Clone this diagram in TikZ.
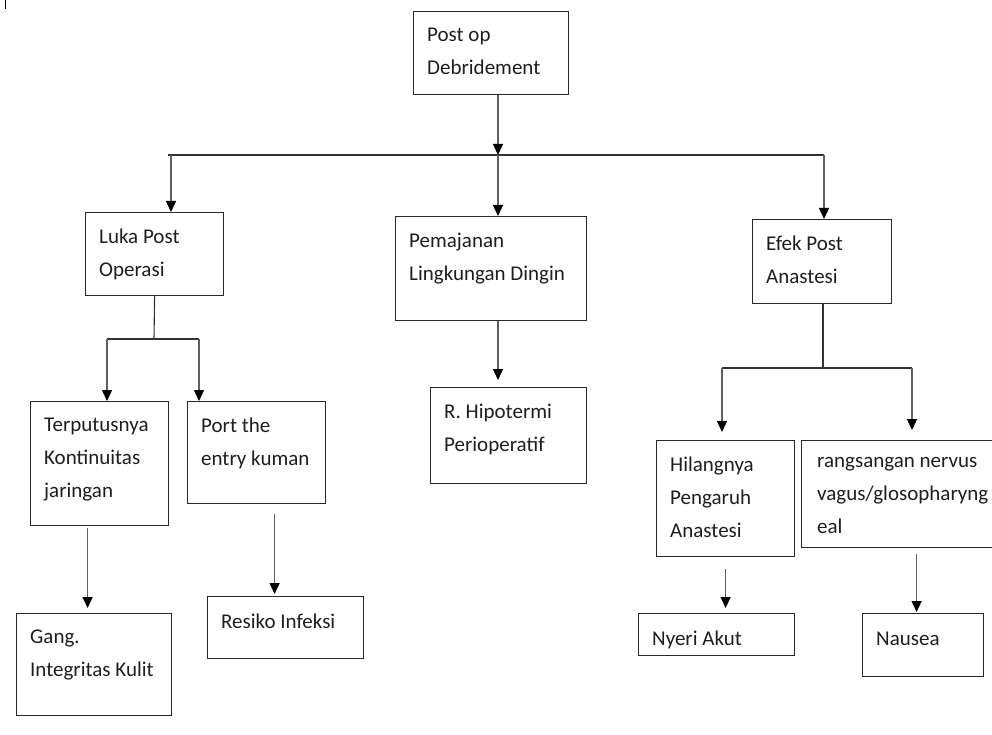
\documentclass[tikz,border=0pt]{standalone}
\usepackage{fontspec}
\setmainfont{Carlito}
\usetikzlibrary{arrows.meta}
\definecolor{boxline}{RGB}{40,40,40}
\definecolor{arrline}{RGB}{95,95,95}
\definecolor{busline}{RGB}{50,50,50}
\definecolor{txtcol}{RGB}{30,30,30}

\begin{document}
\begin{tikzpicture}[x=1pt,y=-1pt,
    every node/.style={font=\fontsize{21}{33}\selectfont,text=txtcol},
    box/.style={draw=boxline,line width=1.2pt,anchor=north west,inner sep=0pt},
    txt/.style={anchor=north west,align=left,inner xsep=14pt,inner ysep=17pt,execute at begin node={\rule{0pt}{15.5pt}}},
    arr/.style={draw=arrline,line width=1.3pt,-{Triangle[width=10pt,length=11pt,color=black]}},
    bus/.style={draw=busline,line width=1.1pt}]
  \useasboundingbox (0,0) rectangle (992,735);
  \clip (0,0) rectangle (992,735);
  \draw[line width=1pt] (5,0) -- (5,9);

  % top level
  \node[box,minimum width=155pt,minimum height=83pt,label={[txt]north west:Post op\\Debridement}] (debride) at (413,11) {};
  \node[box,minimum width=138pt,minimum height=83pt,label={[txt]north west:Luka Post\\Operasi}] (luka) at (85,212) {};
  \node[box,minimum width=191pt,minimum height=104pt,label={[txt]north west:Pemajanan\\Lingkungan Dingin}] (pemajanan) at (395,216) {};
  \node[box,minimum width=139pt,minimum height=84pt,label={[txt]north west:Efek Post\\Anastesi}] (efek) at (752,219) {};

  % second level
  \node[box,minimum width=138pt,minimum height=124pt,label={[txt]north west:Terputusnya\\Kontinuitas\\jaringan}] (putus) at (30,401) {};
  \node[box,minimum width=138pt,minimum height=102pt,label={[txt]north west:Port the\\entry kuman}] (port) at (187,401) {};
  \node[box,minimum width=156pt,minimum height=96pt,label={[txt]north west:R. Hipotermi\\Perioperatif}] (hipotermi) at (430,387) {};
  \node[box,minimum width=138pt,minimum height=116pt,label={[txt]north west:Hilangnya\\Pengaruh\\Anastesi}] (hilang) at (656,440) {};
  \node[box,minimum width=200pt,minimum height=107pt,label={[txt,inner xsep=16pt]north west:rangsangan nervus\\vagus/glosopharyng\\eal}] (rangsang) at (801,440) {};

  % diagnoses
  \node[box,minimum width=155pt,minimum height=102pt,label={[txt]north west:Gang.\\Integritas Kulit}] (gang) at (16,613) {};
  \node[box,minimum width=156pt,minimum height=62pt,label={[txt]north west:Resiko Infeksi}] (infeksi) at (207,596) {};
  \node[box,minimum width=156pt,minimum height=42pt,label={[txt]north west:Nyeri Akut}] (nyeri) at (638,613) {};
  \node[box,minimum width=121pt,minimum height=63pt,label={[txt]north west:Nausea}] (nausea) at (862,613) {};

  % branch points
  \coordinate (hub) at (498,155);
  \coordinate (busL) at (168,155);
  \coordinate (lukaIn) at (171,155);
  \coordinate (busR) at (824,155);
  \coordinate (lukaHub) at (154,339);
  \coordinate (putusIn) at (107,339);
  \coordinate (portIn) at (199,339);
  \coordinate (efekHub) at (823,368);
  \coordinate (hilangIn) at (722,368);
  \coordinate (rangsangIn) at (912,368);

  \draw[arr] (debride.south -| hub) -- (hub);
  \draw[bus] (busL) -- (busR);
  \draw[arr] (lukaIn) -- (lukaIn |- luka.north);
  \draw[arr] (hub) -- (hub |- pemajanan.north);
  \draw[arr] (busR) -- (busR |- efek.north);

  \draw[bus] (luka.south) -- (lukaHub);
  \draw[bus] (putusIn) -- (portIn);
  \draw[arr] (putusIn) -- (putusIn |- putus.north);
  \draw[arr] (portIn) -- (portIn |- port.north);

  \draw[arr,shorten >=7pt] (hub |- pemajanan.south) -- (hub |- hipotermi.north);

  \draw[bus] (efekHub |- efek.south) -- (efekHub);
  \draw[bus] (hilangIn) -- (rangsangIn);
  \draw[arr,shorten >=8pt] (hilangIn) -- (hilangIn |- hilang.north);
  \draw[arr,shorten >=10pt] (rangsangIn) -- (rangsangIn |- rangsang.north);

  \draw[arr,shorten >=5pt] ([xshift=-12pt,yshift=-2pt]putus.south) -- ([xshift=-12pt]putus.south |- gang.north);
  \draw[arr,shorten >=2pt] ([xshift=18pt,yshift=-10pt]port.south) -- ([xshift=18pt]port.south |- infeksi.north);
  \draw[arr,shorten >=5pt] ([yshift=-12pt]hilang.south) -- (hilang.south |- nyeri.north);
  \draw[arr,shorten >=1pt] ([xshift=15pt,yshift=-6pt]rangsang.south) -- ([xshift=15pt]rangsang.south |- nausea.north);
\end{tikzpicture}
\end{document}
